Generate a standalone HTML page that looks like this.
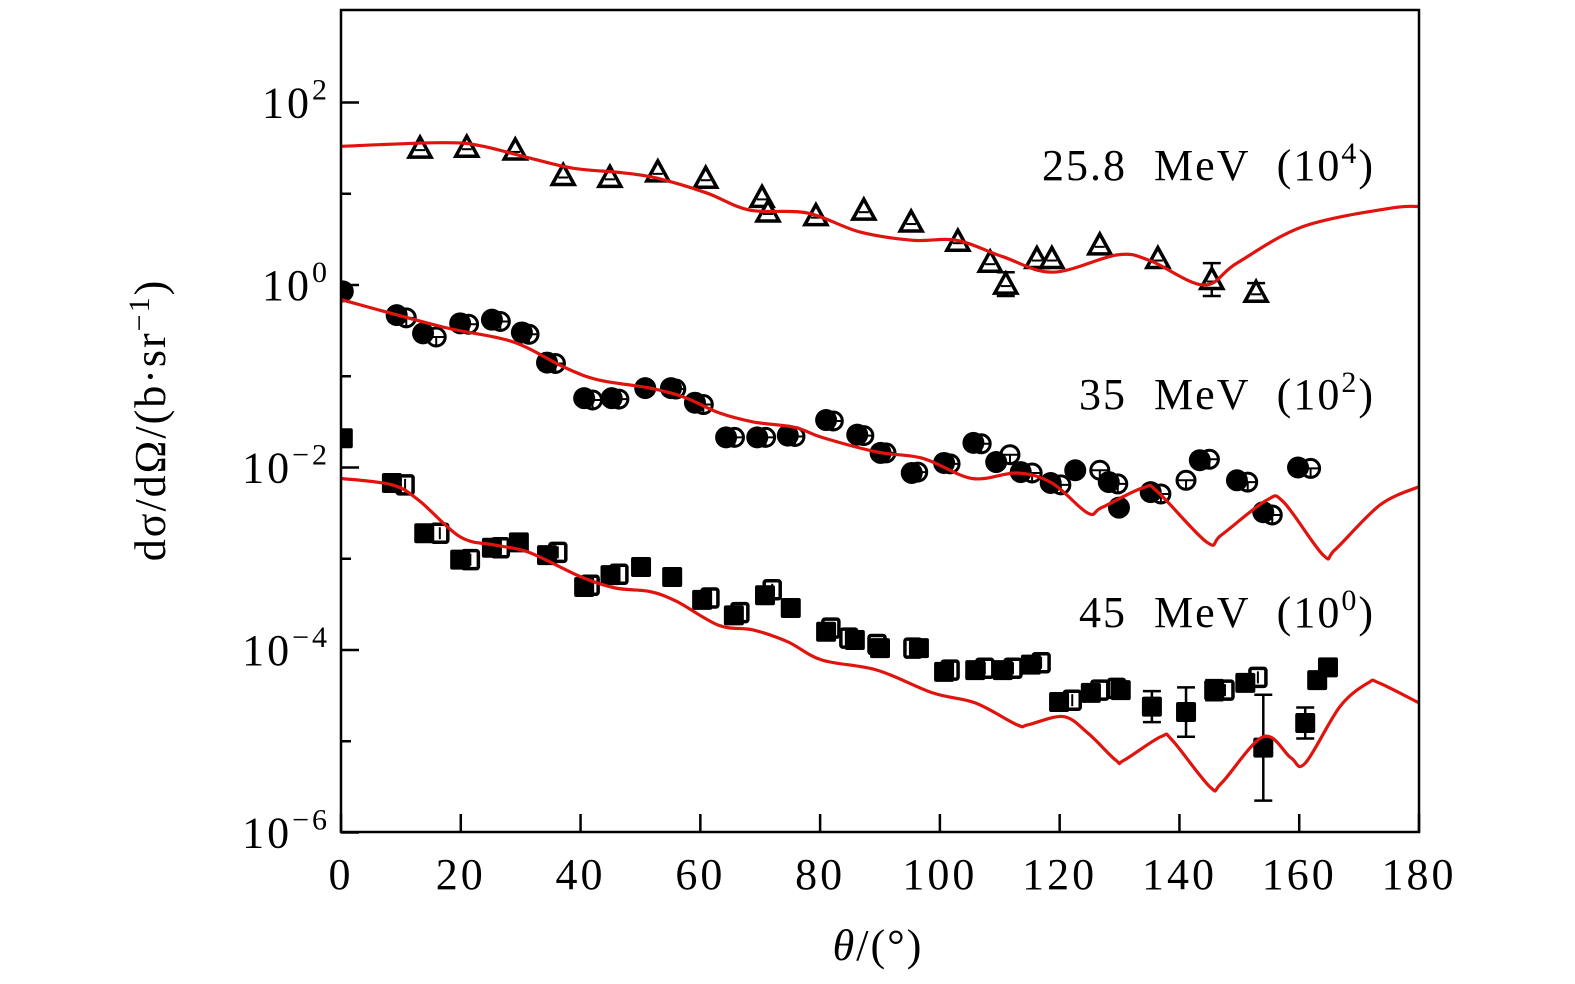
<!DOCTYPE html>
<html><head><meta charset="utf-8"><style>
body{margin:0;background:#fff}
svg{display:block}
text{font-family:"Liberation Serif",serif;fill:#000}
</style></head><body>
<svg id="chart" width="1575" height="984" viewBox="0 0 1575 984" xmlns="http://www.w3.org/2000/svg">
<g id="marks"></g>
<rect x="341" y="10" width="1078" height="822" fill="none" stroke="#000" stroke-width="2.5"/>
<g id="axes"></g>
<text x="1375" y="180" font-size="44" letter-spacing="2" word-spacing="14" text-anchor="end">25.8 MeV (10<tspan dy="-17" font-size="30">4</tspan><tspan dy="17">)</tspan></text>
<text x="1375" y="409" font-size="44" letter-spacing="2" word-spacing="14" text-anchor="end">35 MeV (10<tspan dy="-17" font-size="30">2</tspan><tspan dy="17">)</tspan></text>
<text x="1375" y="627" font-size="44" letter-spacing="2" word-spacing="14" text-anchor="end">45 MeV (10<tspan dy="-17" font-size="30">0</tspan><tspan dy="17">)</tspan></text>
<text x="878" y="960" font-size="44" letter-spacing="2" text-anchor="middle"><tspan font-style="italic">θ</tspan>/(°)</text>
<text transform="translate(165,420) rotate(-90)" font-size="44" letter-spacing="2" text-anchor="middle">dσ/dΩ/(b·sr<tspan dy="-16" font-size="30">−1</tspan><tspan dy="16">)</tspan></text>
</svg>
<script>
// log10 values
const xTicks=[0,20,40,60,80,100,120,140,160,180];
const yMajorExp=[2,0,-2,-4,-6];
const yMinorExp=[1,-1,-3,-5];
// 25.8 MeV (x10^4)
const tri25Theta=[13.2,21.0,29.1,37.1,44.9,52.9,60.9,70.3,71.3,79.3,87.3,95.2,103,108.4,111,116.2,118.7,126.7,136.4,145.4,152.8];
const tri25Log=[1.50,1.51,1.48,1.20,1.18,1.24,1.17,0.96,0.80,0.76,0.82,0.69,0.48,0.25,0.01,0.29,0.29,0.44,0.29,0.06,-0.08];
const tri25Err=[0,0,0,0,0,0,0,0,0,0,0,0,0,0,0.13,0,0,0,0,0.18,0.1];
const curve25Theta=[0,16.5,23,31,38.7,47,52.8,61,68.3,77.8,86.7,95.5,102.8,110.5,118.9,129.6,135,144,149.6,160.6,175,180];
const curve25Log=[1.52,1.56,1.53,1.40,1.28,1.23,1.17,1.01,0.82,0.79,0.58,0.49,0.49,0.31,0.14,0.33,0.27,0.0,0.24,0.64,0.84,0.86];
// 35 MeV (x10^2)
const circFilledTheta=[0.3,9.3,13.7,19.9,25.2,30.2,34.4,40.6,45.2,50.8,55.1,59.1,64.3,69.5,74.6,81,86.2,90.1,95.3,100.7,105.6,109.4,113.5,118.5,122.6,128.2,129.9,135.2,143.4,149.6,154,159.8];
const circFilledLog=[-0.07,-0.33,-0.53,-0.42,-0.38,-0.52,-0.85,-1.24,-1.24,-1.13,-1.13,-1.29,-1.67,-1.67,-1.65,-1.48,-1.64,-1.84,-2.06,-1.95,-1.73,-1.94,-2.05,-2.17,-2.03,-2.16,-2.44,-2.27,-1.92,-2.14,-2.49,-2.0];
const circOpenTheta=[10.9,15.9,21.3,26.6,31.4,35.8,42.0,46.4,55.9,60.5,65.7,70.9,75.8,82.2,87.3,91.0,96.3,101.7,106.9,111.7,115.4,120.2,126.7,129.7,136.9,141.1,145.0,151.4,155.5,161.9];
const circOpenLog=[-0.36,-0.57,-0.43,-0.40,-0.54,-0.86,-1.26,-1.25,-1.14,-1.31,-1.67,-1.67,-1.66,-1.49,-1.65,-1.84,-2.05,-1.96,-1.74,-1.86,-2.06,-2.19,-2.03,-2.18,-2.29,-2.14,-1.91,-2.16,-2.52,-2.01];
const curve35Theta=[0,17,28.6,37.2,43,51.6,57.3,63.1,68.8,75.8,80.3,89.5,97.2,105.4,112.9,118.7,124.7,127,134,136.4,144.6,147,154.5,157.4,164,166,173.5,180];
const curve35Log=[-0.16,-0.46,-0.62,-0.90,-1.04,-1.13,-1.23,-1.40,-1.50,-1.56,-1.67,-1.83,-1.90,-2.12,-2.06,-2.17,-2.50,-2.44,-2.22,-2.27,-2.82,-2.74,-2.36,-2.38,-2.96,-2.90,-2.41,-2.21];
// 45 MeV (x10^0)
const sqFilledTheta=[0.3,8.5,13.9,19.9,25.2,29.7,34.4,40.6,45,50.1,55.3,60.3,65.6,70.8,75.1,81,85.8,90,96.5,100.7,105.9,110.5,115.2,119.9,125.2,130.2,135.4,141.1,145.8,151,154,161,163,164.8];
const sqFilledLog=[-1.68,-2.17,-2.72,-3.01,-2.88,-2.82,-2.96,-3.31,-3.18,-3.09,-3.20,-3.45,-3.62,-3.40,-3.54,-3.80,-3.89,-3.98,-3.98,-4.24,-4.22,-4.22,-4.16,-4.57,-4.47,-4.44,-4.62,-4.68,-4.44,-4.36,-5.07,-4.80,-4.33,-4.19];
const sqErr=[0,0,0,0,0,0,0,0,0,0,0,0,0,0,0,0,0,0,0,0,0,0,0,0,0,0,0.17,0.27,0.11,0,0.58,0.17,0,0];
const sqOpenTheta=[10.7,16.5,21.6,26.6,36.2,41.6,46.4,61.6,66.6,72.0,81.8,84.8,89.5,95.5,101.7,107.5,112.2,116.9,122.1,126.7,129.5,147.6,153.1];
const sqOpenLog=[-2.19,-2.72,-3.01,-2.88,-2.93,-3.29,-3.17,-3.43,-3.59,-3.34,-3.76,-3.87,-3.94,-3.98,-4.22,-4.20,-4.20,-4.14,-4.55,-4.44,-4.42,-4.44,-4.30];
const curve45Theta=[0,8.5,13,19.9,25.7,31.4,40.1,45.8,51.6,56.1,63.1,68.8,74.6,80.3,89.5,98.8,105.9,112.9,114.7,120.6,124.7,129.4,130.7,136.9,138.8,145.1,147,154,158.6,161,166.8,171.5,173.3,180];
const curve45Log=[-2.12,-2.19,-2.36,-2.76,-2.85,-2.93,-3.20,-3.32,-3.36,-3.47,-3.73,-3.78,-3.91,-4.11,-4.22,-4.47,-4.58,-4.82,-4.82,-4.73,-4.91,-5.21,-5.21,-4.95,-4.99,-5.50,-5.46,-4.95,-5.18,-5.24,-4.62,-4.36,-4.36,-4.58];

const NS='http://www.w3.org/2000/svg';
const X=t=>341+t*(1078/180);
const Y=l=>285-l*91.25;
const marks=document.getElementById('marks');
const axes=document.getElementById('axes');
function mk(tag,attrs,parent){const e=document.createElementNS(NS,tag);for(const k in attrs)e.setAttribute(k,attrs[k]);parent.appendChild(e);return e;}
const clip=mk('clipPath',{id:'clp'},marks);mk('rect',{x:341,y:10,width:1078,height:822},clip);
const g=mk('g',{'clip-path':'url(#clp)'},marks);

function curve(th,lg,name){
  const P=th.map((t,i)=>[X(t),Y(lg[i])]);
  let d='M'+P[0][0].toFixed(1)+','+P[0][1].toFixed(1);
  for(let i=0;i<P.length-1;i++){
    const p0=P[Math.max(0,i-1)],p1=P[i],p2=P[i+1],p3=P[Math.min(P.length-1,i+2)];
    const c1=[p1[0]+(p2[0]-p0[0])/6,p1[1]+(p2[1]-p0[1])/6];
    const c2=[p2[0]-(p3[0]-p1[0])/6,p2[1]-(p3[1]-p1[1])/6];
    d+='C'+c1.map(v=>v.toFixed(1)).join(',')+' '+c2.map(v=>v.toFixed(1)).join(',')+' '+p2.map(v=>v.toFixed(1)).join(',');
  }
  const p=mk('path',{d:d,fill:'none',stroke:'#e0140f','stroke-width':3.2,'stroke-linejoin':'round'},g);
  
  
}
function errbar(x,l,e){
  if(!e)return;
  mk('line',{x1:x,x2:x,y1:Y(l+e),y2:Y(l-e),stroke:'#000','stroke-width':2.5},g);
  mk('line',{x1:x-9,x2:x+9,y1:Y(l+e),y2:Y(l+e),stroke:'#000','stroke-width':2.5},g);
  mk('line',{x1:x-9,x2:x+9,y1:Y(l-e),y2:Y(l-e),stroke:'#000','stroke-width':2.5},g);
}
sqOpenTheta.forEach((t,i)=>{const x=X(t),y=Y(sqOpenLog[i]);
  const r=mk('rect',{x:x-8,y:y-9,width:16,height:18,fill:'#fff',stroke:'#000','stroke-width':3.5,rx:2},g);
  
  
  mk('line',{x1:x,x2:x,y1:y-6,y2:y+6,stroke:'#000','stroke-width':2},g);});
sqFilledTheta.forEach((t,i)=>{const x=X(t),y=Y(sqFilledLog[i]);errbar(x,sqFilledLog[i],sqErr[i]);
  const r=mk('rect',{x:x-10,y:y-10,width:20,height:20,fill:'#000',rx:2},g);
  
  });
circOpenTheta.forEach((t,i)=>{const x=X(t),y=Y(circOpenLog[i]);
  const c=mk('circle',{cx:x,cy:y,r:9,fill:'#fff',stroke:'#000','stroke-width':3},g);
  
  
  mk('line',{x1:x-8,x2:x+8,y1:y,y2:y,stroke:'#000','stroke-width':2},g);
  mk('line',{x1:x,x2:x,y1:y,y2:y+8,stroke:'#000','stroke-width':2},g);});
circFilledTheta.forEach((t,i)=>{
  const c=mk('circle',{cx:X(t),cy:Y(circFilledLog[i]),r:11,fill:'#000'},g);
  
  });
tri25Theta.forEach((t,i)=>{const x=X(t),y=Y(tri25Log[i]);errbar(x,tri25Log[i],tri25Err[i]);
  const p=mk('path',{d:`M${x},${y-11}L${x+11},${y+9}L${x-11},${y+9}Z`,fill:'#fff',stroke:'#000','stroke-width':3.5,'stroke-linejoin':'miter'},g);
  
  
  mk('line',{x1:x-5,x2:x+5,y1:y+2,y2:y+2,stroke:'#000','stroke-width':2},g);});
curve(curve25Theta,curve25Log,'theory-curve-25-8mev');
curve(curve35Theta,curve35Log,'theory-curve-35mev');
curve(curve45Theta,curve45Log,'theory-curve-45mev');

xTicks.forEach(t=>{const x=X(t);
  mk('line',{x1:x,x2:x,y1:832,y2:814,stroke:'#000','stroke-width':2.5},axes);
  const tx=mk('text',{x:x,y:889,'font-size':44,'letter-spacing':3,'text-anchor':'middle'},axes);tx.textContent=t;
  
  });
yMajorExp.forEach(e=>{const y=Y(e);
  mk('line',{x1:341,x2:359,y1:y,y2:y,stroke:'#000','stroke-width':2.5},axes);
  const tx=mk('text',{x:330,y:y+15,'font-size':44,'letter-spacing':3,'text-anchor':'end'},axes);
  
  
  tx.appendChild(document.createTextNode('10'));
  const ts=mk('tspan',{dy:-18,'font-size':30},tx);ts.textContent=(e<0?'−':'')+Math.abs(e);});
yMinorExp.forEach(e=>{const y=Y(e);mk('line',{x1:341,x2:351,y1:y,y2:y,stroke:'#000','stroke-width':2.5},axes);});
</script>
</body></html>
